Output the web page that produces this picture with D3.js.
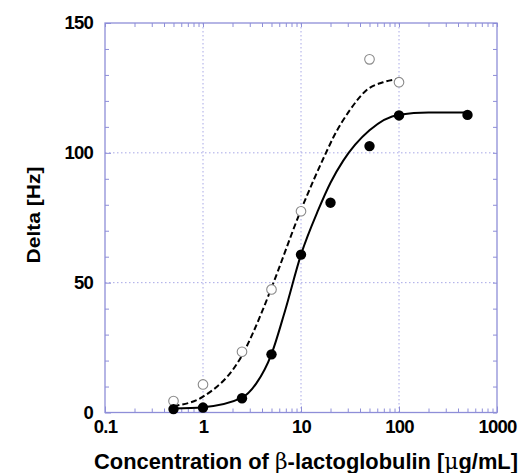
<!DOCTYPE html>
<html>
<head>
<meta charset="utf-8">
<script src="https://cdn.jsdelivr.net/npm/d3@7"></script>
<style>
  html, body { margin: 0; padding: 0; background: #fff; }
  svg { display: block; }
  text { font-family: 'Liberation Sans', Arial, sans-serif; font-weight: bold; fill: #000; }
</style>
</head>
<body>
<div id="chart"></div>
<script>
const concFilled = [0.5, 1, 2.5, 5, 10, 20, 50, 100, 500];
const deltaFilled = [1.3, 1.9, 5.5, 22.4, 60.8, 80.8, 102.6, 114.4, 114.6];
const concOpen = [0.5, 1, 2.5, 5, 10, 50, 100];
const deltaOpen = [4.4, 10.8, 23.4, 47.4, 77.5, 136, 127.2];

// fitted curves, sampled from the figure
const fitFilledConc = [0.5, 1, 2.5, 3.5, 5, 6.9, 10, 15, 20, 27, 50, 100, 200, 500];
const fitFilledDelta = [1.5, 2.0, 5.7, 11.2, 22.5, 39.4, 60.8, 78, 88.5, 97, 108.7, 114.7, 115.5, 115.5];
const fitOpenConc = [0.5, 1, 2.5, 4.06, 5, 10, 18.5, 21.4, 31.6, 46.8, 69, 100];
const fitOpenDelta = [2.5, 6.1, 22, 39.4, 48, 78, 101, 106, 116.5, 124.2, 127.2, 128.5];

const xMajor = [0.1, 1, 10, 100, 1000];
const yMajor = [0, 50, 100, 150];
const xLabel = 'Concentration of β-lactoglobulin [μg/mL]';
const yLabel = 'Delta [Hz]';

const width = 523;
const height = 473;
const margin = { left: 105, right: 26, top: 23, bottom: 60.5 };

const svg = d3.select('#chart').append('svg').attr('width', width).attr('height', height);
svg.append('rect').attr('width', width).attr('height', height).attr('fill', '#fff');

const x = d3.scaleLog().domain([0.1, 1000]).range([margin.left, width - margin.right]);
const y = d3.scaleLinear().domain([0, 150]).range([height - margin.bottom, margin.top]);

const frameColor = '#8e8ed8';
const gridColor = '#a8a8e6';

// minor ticks
const xMinor = [];
[0.1, 1, 10, 100].forEach((d) => {
  for (let k = 2; k <= 9; k++) xMinor.push(d * k);
});
const yMinor = d3.range(0, 151, 10).filter((v) => v % 50 !== 0);

// --- gridlines ---
const grid = svg.append('g').attr('class', 'grid');
grid
  .selectAll('line.vx')
  .data([1, 10, 100])
  .join('line')
  .attr('x1', (d) => x(d))
  .attr('x2', (d) => x(d))
  .attr('y1', y(0))
  .attr('y2', y(150))
  .attr('stroke', gridColor)
  .attr('stroke-width', 1)
  .attr('stroke-dasharray', '1.5,2.5');
grid
  .selectAll('line.hy')
  .data([50, 100])
  .join('line')
  .attr('x1', x(0.1))
  .attr('x2', x(1000))
  .attr('y1', (d) => y(d))
  .attr('y2', (d) => y(d))
  .attr('stroke', gridColor)
  .attr('stroke-width', 1)
  .attr('stroke-dasharray', '1.5,2.5');

// --- axes (ticks inside the frame) ---
function styleAxis(g) {
  g.select('.domain').remove();
  g.selectAll('.tick line').attr('stroke', frameColor).attr('stroke-width', 1);
}

function styleLabels(g) {
  g.selectAll('text')
    .attr('font-size', 18.5)
    .attr('font-family', null)
    .attr('letter-spacing', '-0.8px');
}

const fmtX = (d) => (d >= 1 ? d3.format('d')(d) : String(d));

svg
  .append('g')
  .attr('transform', `translate(0,${y(0)})`)
  .call(d3.axisBottom(x).tickValues(xMajor).tickSize(-6).tickPadding(7).tickFormat(fmtX))
  .call(styleAxis)
  .call(styleLabels);

svg
  .append('g')
  .attr('transform', `translate(0,${y(0)})`)
  .call(d3.axisBottom(x).tickValues(xMinor).tickSize(-4).tickFormat(''))
  .call(styleAxis);

svg
  .append('g')
  .attr('transform', `translate(0,${y(150)})`)
  .call(d3.axisTop(x).tickValues(xMajor.concat(xMinor)).tickSize(-4).tickFormat(''))
  .call(styleAxis);

svg
  .append('g')
  .attr('transform', `translate(${x(0.1)},0)`)
  .call(d3.axisLeft(y).tickValues(yMajor).tickSize(-6).tickPadding(12).tickFormat(d3.format('d')))
  .call(styleAxis)
  .call(styleLabels);

svg
  .append('g')
  .attr('transform', `translate(${x(0.1)},0)`)
  .call(d3.axisLeft(y).tickValues(yMinor).tickSize(-4).tickFormat(''))
  .call(styleAxis);

svg
  .append('g')
  .attr('transform', `translate(${x(1000)},0)`)
  .call(d3.axisRight(y).tickValues(yMajor.concat(yMinor)).tickSize(-4).tickFormat(''))
  .call(styleAxis);

// frame
svg
  .append('rect')
  .attr('x', x(0.1))
  .attr('y', y(150))
  .attr('width', x(1000) - x(0.1))
  .attr('height', y(0) - y(150))
  .attr('fill', 'none')
  .attr('stroke', frameColor)
  .attr('stroke-width', 1.3);

// --- fitted curves ---
const line = d3
  .line()
  .x((d) => x(d[0]))
  .y((d) => y(d[1]))
  .curve(d3.curveMonotoneX);

svg
  .append('path')
  .attr('d', line(d3.zip(fitOpenConc, fitOpenDelta)))
  .attr('fill', 'none')
  .attr('stroke', '#000')
  .attr('stroke-width', 2)
  .attr('stroke-dasharray', '6,3');

svg
  .append('path')
  .attr('d', line(d3.zip(fitFilledConc, fitFilledDelta)))
  .attr('fill', 'none')
  .attr('stroke', '#000')
  .attr('stroke-width', 2);

// --- markers ---
svg
  .append('g')
  .selectAll('circle')
  .data(d3.zip(concOpen, deltaOpen))
  .join('circle')
  .attr('cx', (d) => x(d[0]))
  .attr('cy', (d) => y(d[1]))
  .attr('r', 4.8)
  .attr('fill', '#fff')
  .attr('stroke', '#8a8a8a')
  .attr('stroke-width', 1.1);

svg
  .append('g')
  .selectAll('circle')
  .data(d3.zip(concFilled, deltaFilled))
  .join('circle')
  .attr('cx', (d) => x(d[0]))
  .attr('cy', (d) => y(d[1]))
  .attr('r', 5.2)
  .attr('fill', '#000');

// --- axis titles ---
const xt = svg
  .append('text')
  .attr('x', 306)
  .attr('y', 469)
  .attr('text-anchor', 'middle')
  .attr('font-size', 21.5)
  .attr('textLength', 424)
  .attr('lengthAdjust', 'spacingAndGlyphs');
xLabel.split(/([βμ])/).forEach((part) => {
  if (!part) return;
  const t = xt.append('tspan').text(part);
  if (part === 'β' || part === 'μ') t.attr('font-family', "'DejaVu Serif', 'Liberation Serif', serif").attr('font-weight', 'normal');
});

svg
  .append('text')
  .attr('transform', `translate(40,${215}) rotate(-90)`)
  .attr('text-anchor', 'middle')
  .attr('font-size', 18.5)
  .attr('textLength', 97)
  .attr('lengthAdjust', 'spacingAndGlyphs')
  .text(yLabel);
</script>
</body>
</html>
